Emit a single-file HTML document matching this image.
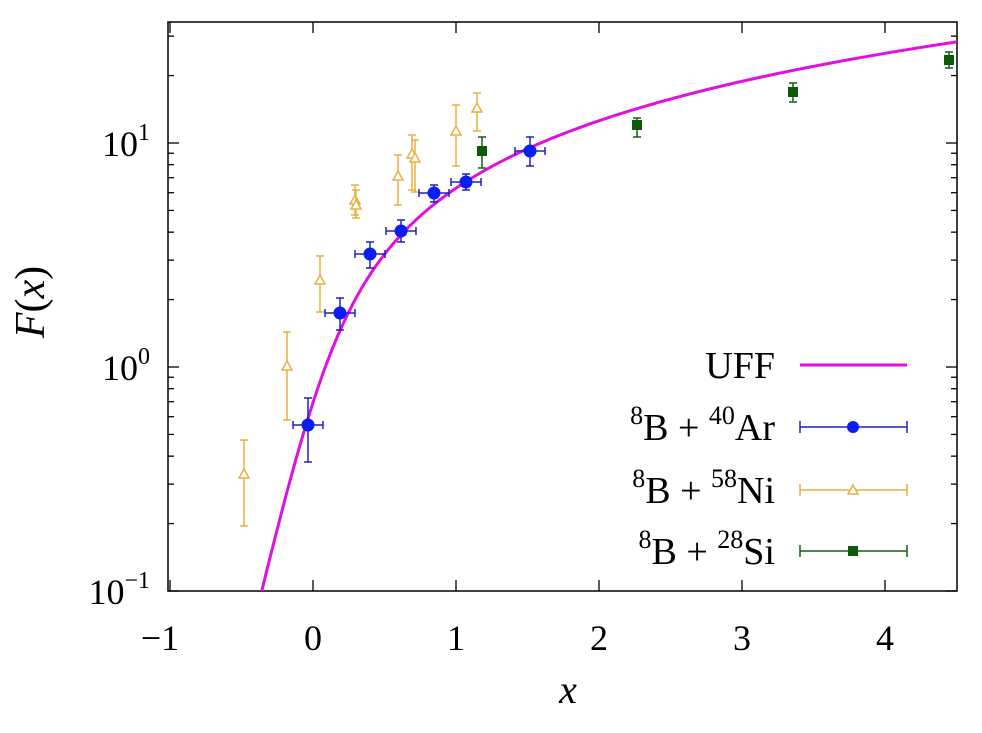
<!DOCTYPE html>
<html><head><meta charset="utf-8"><style>
html,body{margin:0;padding:0;background:#fff}
svg{display:block}
text{font-family:"Liberation Serif",serif;fill:#000}
</style></head><body>
<svg width="982" height="733" viewBox="0 0 982 733" xmlns="http://www.w3.org/2000/svg">
<g id="ticks" stroke="#000" stroke-width="1.3"></g>
<rect x="168" y="22" width="789" height="569" fill="none" stroke="#000" stroke-width="1.5"/>
<g font-size="36" text-anchor="middle">
<text x="160" y="650">−1</text><text x="313" y="650">0</text><text x="456" y="650">1</text>
<text x="599" y="650">2</text><text x="742" y="650">3</text><text x="885" y="650">4</text>
</g>
<g font-size="36" text-anchor="end">
<text x="150" y="156">10<tspan font-size="24" dy="-16">1</tspan></text>
<text x="150" y="380">10<tspan font-size="24" dy="-16">0</tspan></text>
<text x="150" y="604">10<tspan font-size="24" dy="-16">−1</tspan></text>
</g>
<text x="568" y="703" font-size="40" font-style="italic" text-anchor="middle">x</text>
<text transform="translate(44,302) rotate(-90)" font-size="42" text-anchor="middle"><tspan font-style="italic">F</tspan>(<tspan font-style="italic">x</tspan>)</text>
<clipPath id="c"><rect x="168" y="22" width="789" height="569"/></clipPath>
<path id="uff" clip-path="url(#c)" fill="none" stroke="#e010e0" stroke-width="3"/>
<g id="pts"></g>
<g font-size="38" text-anchor="end">
<text x="775" y="378">UFF</text>
<text x="775" y="440"><tspan font-size="26" dy="-16">8</tspan><tspan dy="16">B + </tspan><tspan font-size="26" dy="-16">40</tspan><tspan dy="16">Ar</tspan></text>
<text x="775" y="503"><tspan font-size="26" dy="-16">8</tspan><tspan dy="16">B + </tspan><tspan font-size="26" dy="-16">58</tspan><tspan dy="16">Ni</tspan></text>
<text x="775" y="564"><tspan font-size="26" dy="-16">8</tspan><tspan dy="16">B + </tspan><tspan font-size="26" dy="-16">28</tspan><tspan dy="16">Si</tspan></text>
</g>
<line x1="800" y1="365" x2="907" y2="365" stroke="#e010e0" stroke-width="3"/>
<g stroke="#2020c0" stroke-width="1.5"><line x1="800" y1="427" x2="907" y2="427"/><line x1="800" y1="421" x2="800" y2="433"/><line x1="907" y1="421" x2="907" y2="433"/></g>
<circle cx="853" cy="427" r="6" fill="#0a1ef0"/>
<g stroke="#e8b040" stroke-width="1.5"><line x1="800" y1="490" x2="907" y2="490"/><line x1="800" y1="484" x2="800" y2="496"/><line x1="907" y1="484" x2="907" y2="496"/></g>
<path d="M853 485 L858 494 L848 494Z" fill="#fff" stroke="#e8b040" stroke-width="1.5"/>
<g stroke="#106010" stroke-width="1.5"><line x1="800" y1="551" x2="907" y2="551"/><line x1="800" y1="545" x2="800" y2="557"/><line x1="907" y1="545" x2="907" y2="557"/></g>
<rect x="848" y="546" width="10" height="10" fill="#0a5a0a"/>
</svg>
<script>
const X=v=>170+143*(v+1), Y=f=>367-224*Math.log10(f);
let t='';
for(let i=-1;i<=4;i++){const x=X(i);t+=`<line x1="${x}" y1="591" x2="${x}" y2="580"/><line x1="${x}" y1="22" x2="${x}" y2="33"/>`;}
for(let d=-1;d<=1;d++)for(let m=1;m<=9;m++){const y=Y(m*Math.pow(10,d));if(y<22||y>591)continue;const L=m==1?11:6;t+=`<line x1="168" y1="${y}" x2="${168+L}" y2="${y}"/><line x1="957" y1="${y}" x2="${957-L}" y2="${y}"/>`;}
document.getElementById('ticks').innerHTML=t;
let d='';for(let v=-0.5;v<=4.6;v+=0.01){const f=Math.log(1+Math.exp(2*Math.PI*v));d+=(d?'L':'M')+X(v).toFixed(1)+' '+Y(f).toFixed(1);}
document.getElementById('uff').setAttribute('d',d);
let p='';
function eb(x,y,y1,y2,xe,c){p+=`<g stroke="${c}" stroke-width="1.5"><line x1="${x}" y1="${y1}" x2="${x}" y2="${y2}"/><line x1="${x-4}" y1="${y1}" x2="${x+4}" y2="${y1}"/><line x1="${x-4}" y1="${y2}" x2="${x+4}" y2="${y2}"/>`;
if(xe)p+=`<line x1="${x-xe}" y1="${y}" x2="${x+xe}" y2="${y}"/><line x1="${x-xe}" y1="${y-4}" x2="${x-xe}" y2="${y+4}"/><line x1="${x+xe}" y1="${y-4}" x2="${x+xe}" y2="${y+4}"/>`;p+='</g>';}
[[244,474,440,526],[287,366,332,420],[320,280,256,312],[355,200,185,215],[356,205,190,218],[398,176,155,205],[412,154,135,190],[415,158,140,192],[456,131,105,166],[477,108,93,131]].forEach(a=>{eb(a[0],a[1],a[2],a[3],0,'#e8b040');p+=`<path d="M${a[0]} ${a[1]-5} L${a[0]+5} ${a[1]+4} L${a[0]-5} ${a[1]+4}Z" fill="#fff" stroke="#e8b040" stroke-width="1.5"/>`;});
[[482,151,137,168],[637,125,118,137],[793,92,83,102],[949,60,52,68]].forEach(a=>{eb(a[0],a[1],a[2],a[3],0,'#106010');p+=`<rect x="${a[0]-5}" y="${a[1]-5}" width="10" height="10" fill="#0a5a0a"/>`;});
[[308,425,398,462],[340,313,298,330],[370,254,242,268],[401,231,220,242],[434,193,185,202],[466,182,174,190],[530,151,137,166]].forEach(a=>{eb(a[0],a[1],a[2],a[3],15,'#2020c0');p+=`<circle cx="${a[0]}" cy="${a[1]}" r="6.5" fill="#0a1ef0"/>`;});
document.getElementById('pts').innerHTML=p;
</script>
</body></html>
